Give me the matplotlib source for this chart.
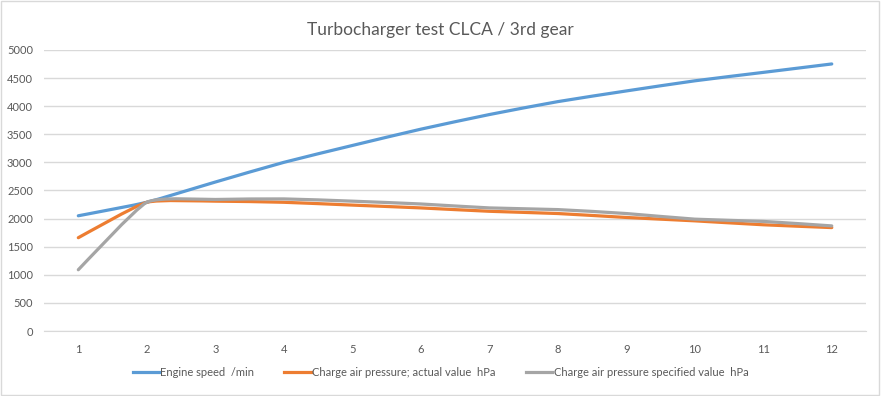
import numpy as np
import matplotlib.pyplot as plt
from matplotlib.path import Path
from matplotlib.patches import PathPatch
from matplotlib.lines import Line2D

gears = [1, 2, 3, 4, 5, 6, 7, 8, 9, 10, 11, 12]
engine_speed = [2050, 2290, 2650, 3000, 3300, 3590, 3850, 4080, 4270, 4450, 4600, 4750]
pressure_actual = [1660, 2290, 2310, 2290, 2240, 2190, 2130, 2090, 2020, 1960, 1890, 1840]
pressure_spec = [1090, 2290, 2340, 2350, 2310, 2260, 2190, 2160, 2090, 1990, 1950, 1870]

labels = ["Engine speed  /min", "Charge air pressure; actual value  hPa",
          "Charge air pressure specified value  hPa"]
colors = ["#5b9bd5", "#ed7d31", "#a5a5a5"]

plt.rcParams['font.family'] = ['Lato', 'DejaVu Sans']


def smooth_path(x, y, k=12):
    # lightly smoothed line (like Excel's "smoothed line"), bezier through the points
    x = np.asarray(x, float)
    y = np.asarray(y, float)
    verts = [(x[0], y[0])]
    codes = [Path.MOVETO]
    n = len(x)
    for i in range(n - 1):
        p0 = (x[max(i - 1, 0)], y[max(i - 1, 0)])
        p1 = (x[i], y[i])
        p2 = (x[i + 1], y[i + 1])
        p3 = (x[min(i + 2, n - 1)], y[min(i + 2, n - 1)])
        c1 = (p1[0] + (p2[0] - p0[0]) / k, p1[1] + (p2[1] - p0[1]) / k)
        c2 = (p2[0] - (p3[0] - p1[0]) / k, p2[1] - (p3[1] - p1[1]) / k)
        verts += [c1, c2, p2]
        codes += [Path.CURVE4] * 3
    return Path(verts, codes)


fig = plt.figure(figsize=(8.81, 3.96), dpi=100)
fig.patches.append(plt.Rectangle((0.001, 0.002), 0.997, 0.996, transform=fig.transFigure,
                                 fill=False, edgecolor="#d9d9d9", linewidth=1))
ax = fig.add_axes([0.05, 0.164, 0.933, 0.71])

for series, c in zip([engine_speed, pressure_actual, pressure_spec], colors):
    ax.add_patch(PathPatch(smooth_path(gears, series), facecolor="none",
                           edgecolor=c, linewidth=2.3, capstyle="round", zorder=3))

ax.set_xlim(0.5, 12.5)
ax.set_ylim(0, 5000)
ax.set_xticks(gears)
ax.set_yticks(range(0, 5001, 500))
ax.grid(axis="y", color="#d9d9d9", linewidth=1)
ax.set_axisbelow(True)
for s in ["top", "right", "left"]:
    ax.spines[s].set_visible(False)
ax.spines["bottom"].set_color("#d9d9d9")
ax.tick_params(length=0, colors="#595959", labelsize=8)
ax.tick_params(axis="x", pad=9)
ax.tick_params(axis="y", pad=8)

fig.text(0.5, 0.925, "Turbocharger test CLCA / 3rd gear", ha="center", va="center",
         fontsize=12.5, color="#595959")

handles = [Line2D([0], [0], color=c, linewidth=2.3) for c in colors]
fig.legend(handles, labels, loc="center", bbox_to_anchor=(0.5, 0.06), ncol=3,
           frameon=False, fontsize=8, labelcolor="#595959", handlelength=2.4,
           handletextpad=0.1, columnspacing=2.7)

fig.savefig("out.png", dpi=100)
